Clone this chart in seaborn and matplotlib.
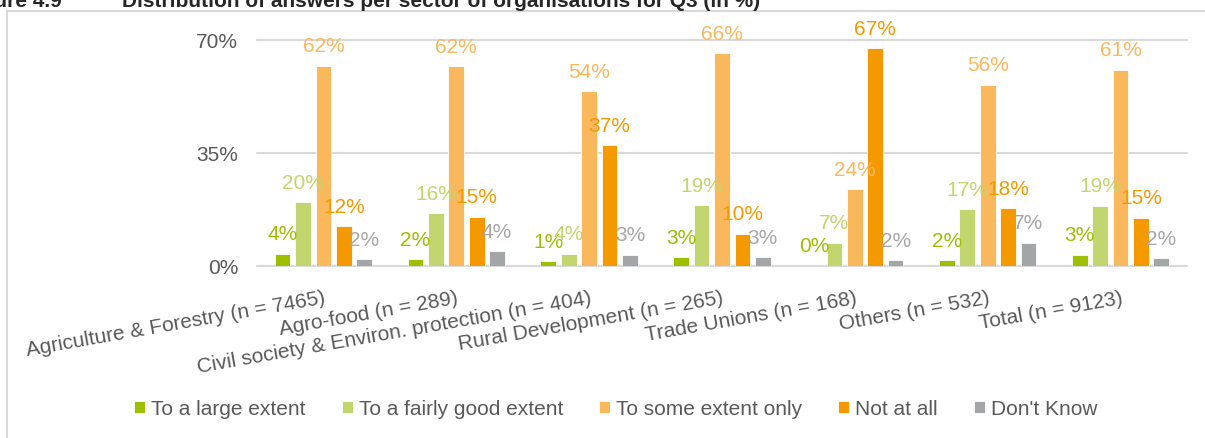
import numpy as np
import pandas as pd
import matplotlib
matplotlib.use("Agg")
import matplotlib.pyplot as plt
from matplotlib.patches import Rectangle
from matplotlib.ticker import PercentFormatter
import seaborn as sns

# values (in %)
sectors = ["Agriculture & Forestry (n = 7465)", "Agro-food (n = 289)",
           "Civil society & Environ. protection (n = 404)", "Rural Development (n = 265)",
           "Trade Unions (n = 168)", "Others (n = 532)", "Total (n = 9123)"]
answers = ["To a large extent", "To a fairly good extent", "To some extent only",
           "Not at all", "Don't Know"]

large = [3.6, 1.9, 1.3, 2.6, 0.0, 1.6, 3.3]
fairly = [19.7, 16.2, 3.6, 18.7, 7.1, 17.4, 18.6]
some = [62.0, 61.8, 54.1, 65.9, 23.7, 56.0, 60.7]
notall = [12.2, 15.1, 37.3, 9.8, 67.3, 17.8, 14.8]
dontknow = [1.9, 4.4, 3.4, 2.6, 1.7, 7.1, 2.3]

bar_colors = ["#9EBF00", "#C3D56E", "#FAB85D", "#F49A00", "#A2A6A7"]
label_colors = ["#9EBF00", "#C3D56E", "#FAB85D", "#F49A00", "#A6A6A6"]

df = pd.DataFrame({
    "sector": sectors * 5,
    "answer": np.repeat(answers, len(sectors)),
    "value": large + fairly + some + notall + dontknow,
})

sns.set_theme(style="white")
plt.rcParams["font.family"] = ["Liberation Sans", "DejaVu Sans"]

fig, ax = plt.subplots(figsize=(12.05, 4.39), dpi=100)
fig.subplots_adjust(left=0.2133, right=0.985, bottom=0.3929, top=0.9073)

sns.barplot(data=df, x="sector", y="value", hue="answer", hue_order=answers,
            palette=bar_colors, saturation=1, width=0.768, gap=0.23,
            errorbar=None, edgecolor="white", linewidth=0.6, ax=ax)

for cont, vals, col in zip(ax.containers, [large, fairly, some, notall, dontknow], label_colors):
    ax.bar_label(cont, labels=[f"{v:.0f}%" for v in vals], padding=7.5,
                 color=col, fontsize=15)

ax.set_ylim(0, 70)
ax.set_yticks([0, 35, 70])
ax.yaxis.set_major_formatter(PercentFormatter(xmax=100, decimals=0))
ax.yaxis.grid(True, color="#D9D9D9", lw=1.5)
for gl in ax.get_ygridlines():
    gl.set_clip_on(False)
ax.set_axisbelow(True)
sns.despine(ax=ax, left=True, bottom=True)

ax.set_xlabel("")
ax.set_ylabel("")
ax.set_xticks(range(len(sectors)))
ax.set_xticklabels(sectors, rotation=10, ha="right", va="top", rotation_mode="anchor")
ax.tick_params(axis="x", length=0, pad=16, labelsize=15, labelcolor="#595959")
ax.tick_params(axis="y", length=0, pad=13.5, labelsize=15, labelcolor="#595959")

handles, labels = ax.get_legend_handles_labels()
ax.legend_.remove()
fig.legend(handles, labels, loc="center", bbox_to_anchor=(0.511, 1 - 410 / 439),
           ncol=5, frameon=False, fontsize=15, handlelength=0.53, handleheight=0.53,
           handletextpad=0.29, columnspacing=1.73, labelcolor="#595959")

# chart border (partly outside the crop)
fig.add_artist(Rectangle((7 / 1205, -0.5), 2, 1.5 - 12 / 439, transform=fig.transFigure,
                         fill=False, edgecolor="#D9D9D9", lw=1.5))

fig.text(62 / 1205, 1 - 7 / 439, "Figure 4.9", ha="right", va="baseline",
         fontsize=15, fontweight="bold")
fig.text(122 / 1205, 1 - 7 / 439,
         "Distribution of answers per sector of organisations for Q3 (in %)",
         ha="left", va="baseline", fontsize=15, fontweight="bold")

fig.savefig("out.png", dpi=100)
